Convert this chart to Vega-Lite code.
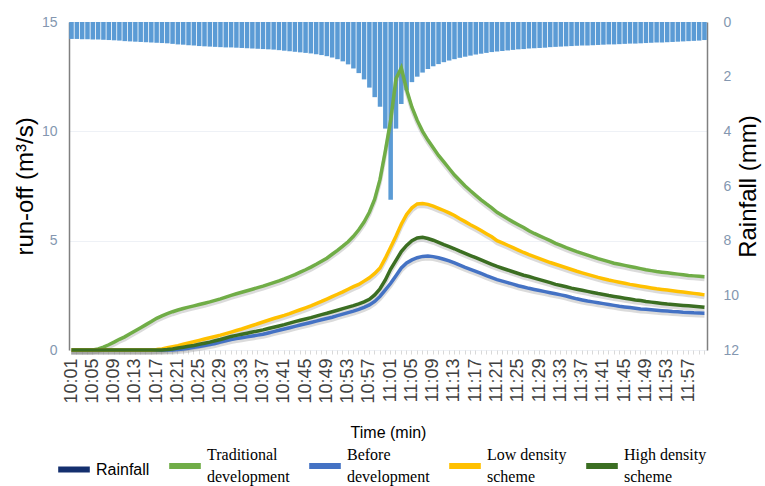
{
"$schema": "https://vega.github.io/schema/vega-lite/v6.json",
"width": 638, "height": 328,
"autosize": {"type": "none"},
"padding": {"left": 69, "top": 22, "right": 58, "bottom": 136},
"config": {"font": "Liberation Sans", "view": {"stroke": null}, "axis": {"labelFont": "Liberation Sans", "titleFont": "Liberation Sans"}},
"data": {"values": [
{"t":"10:01","rain":0.62,"trad":0,"before":0,"low":0,"high":0},
{"t":"10:02","rain":0.62,"trad":0,"before":0,"low":0,"high":0},
{"t":"10:03","rain":0.63,"trad":0,"before":0,"low":0,"high":0},
{"t":"10:04","rain":0.63,"trad":0,"before":0,"low":0,"high":0},
{"t":"10:05","rain":0.64,"trad":0,"before":0,"low":0,"high":0},
{"t":"10:06","rain":0.64,"trad":0.05,"before":0,"low":0,"high":0},
{"t":"10:07","rain":0.65,"trad":0.13,"before":0,"low":0,"high":0},
{"t":"10:08","rain":0.66,"trad":0.24,"before":0,"low":0,"high":0},
{"t":"10:09","rain":0.67,"trad":0.36,"before":0,"low":0,"high":0},
{"t":"10:10","rain":0.68,"trad":0.49,"before":0,"low":0,"high":0},
{"t":"10:11","rain":0.70,"trad":0.60,"before":0,"low":0,"high":0},
{"t":"10:12","rain":0.71,"trad":0.74,"before":0,"low":0,"high":0},
{"t":"10:13","rain":0.72,"trad":0.88,"before":0,"low":0,"high":0},
{"t":"10:14","rain":0.73,"trad":1.02,"before":0,"low":0,"high":0},
{"t":"10:15","rain":0.74,"trad":1.16,"before":0,"low":0,"high":0},
{"t":"10:16","rain":0.75,"trad":1.30,"before":0,"low":0,"high":0},
{"t":"10:17","rain":0.76,"trad":1.45,"before":0,"low":0.02,"high":0},
{"t":"10:18","rain":0.77,"trad":1.56,"before":0,"low":0.05,"high":0},
{"t":"10:19","rain":0.78,"trad":1.66,"before":0,"low":0.10,"high":0.02},
{"t":"10:20","rain":0.80,"trad":1.75,"before":0,"low":0.15,"high":0.05},
{"t":"10:21","rain":0.82,"trad":1.83,"before":0.02,"low":0.20,"high":0.09},
{"t":"10:22","rain":0.83,"trad":1.90,"before":0.05,"low":0.26,"high":0.13},
{"t":"10:23","rain":0.85,"trad":1.96,"before":0.08,"low":0.32,"high":0.17},
{"t":"10:24","rain":0.86,"trad":2.02,"before":0.12,"low":0.38,"high":0.21},
{"t":"10:25","rain":0.88,"trad":2.08,"before":0.16,"low":0.44,"high":0.26},
{"t":"10:26","rain":0.89,"trad":2.14,"before":0.20,"low":0.50,"high":0.31},
{"t":"10:27","rain":0.90,"trad":2.20,"before":0.25,"low":0.56,"high":0.36},
{"t":"10:28","rain":0.91,"trad":2.27,"before":0.30,"low":0.62,"high":0.42},
{"t":"10:29","rain":0.92,"trad":2.34,"before":0.36,"low":0.68,"high":0.48},
{"t":"10:30","rain":0.93,"trad":2.42,"before":0.42,"low":0.75,"high":0.55},
{"t":"10:31","rain":0.93,"trad":2.50,"before":0.48,"low":0.82,"high":0.62},
{"t":"10:32","rain":0.94,"trad":2.57,"before":0.52,"low":0.89,"high":0.67},
{"t":"10:33","rain":0.95,"trad":2.64,"before":0.56,"low":0.96,"high":0.72},
{"t":"10:34","rain":0.96,"trad":2.71,"before":0.60,"low":1.04,"high":0.77},
{"t":"10:35","rain":0.97,"trad":2.78,"before":0.64,"low":1.12,"high":0.82},
{"t":"10:36","rain":0.98,"trad":2.85,"before":0.68,"low":1.20,"high":0.87},
{"t":"10:37","rain":0.99,"trad":2.92,"before":0.72,"low":1.28,"high":0.92},
{"t":"10:38","rain":1.00,"trad":3.00,"before":0.78,"low":1.36,"high":0.98},
{"t":"10:39","rain":1.01,"trad":3.08,"before":0.84,"low":1.44,"high":1.04},
{"t":"10:40","rain":1.03,"trad":3.16,"before":0.90,"low":1.51,"high":1.10},
{"t":"10:41","rain":1.05,"trad":3.25,"before":0.96,"low":1.58,"high":1.16},
{"t":"10:42","rain":1.07,"trad":3.35,"before":1.02,"low":1.66,"high":1.23},
{"t":"10:43","rain":1.09,"trad":3.45,"before":1.08,"low":1.75,"high":1.30},
{"t":"10:44","rain":1.11,"trad":3.56,"before":1.14,"low":1.84,"high":1.36},
{"t":"10:45","rain":1.13,"trad":3.67,"before":1.20,"low":1.93,"high":1.42},
{"t":"10:46","rain":1.15,"trad":3.79,"before":1.26,"low":2.02,"high":1.48},
{"t":"10:47","rain":1.18,"trad":3.92,"before":1.32,"low":2.12,"high":1.55},
{"t":"10:48","rain":1.21,"trad":4.06,"before":1.38,"low":2.22,"high":1.62},
{"t":"10:49","rain":1.25,"trad":4.20,"before":1.44,"low":2.33,"high":1.68},
{"t":"10:50","rain":1.30,"trad":4.38,"before":1.50,"low":2.44,"high":1.75},
{"t":"10:51","rain":1.36,"trad":4.56,"before":1.57,"low":2.55,"high":1.82},
{"t":"10:52","rain":1.44,"trad":4.75,"before":1.64,"low":2.66,"high":1.89},
{"t":"10:53","rain":1.55,"trad":4.95,"before":1.71,"low":2.78,"high":1.96},
{"t":"10:54","rain":1.70,"trad":5.20,"before":1.78,"low":2.90,"high":2.03},
{"t":"10:55","rain":1.87,"trad":5.50,"before":1.86,"low":3.00,"high":2.11},
{"t":"10:56","rain":2.10,"trad":5.85,"before":1.95,"low":3.15,"high":2.20},
{"t":"10:57","rain":2.40,"trad":6.30,"before":2.06,"low":3.30,"high":2.32},
{"t":"10:58","rain":2.75,"trad":6.90,"before":2.22,"low":3.50,"high":2.52},
{"t":"10:59","rain":3.10,"trad":7.80,"before":2.45,"low":3.75,"high":2.80},
{"t":"11:00","rain":3.90,"trad":9.10,"before":2.75,"low":4.20,"high":3.20},
{"t":"11:01","rain":6.50,"trad":10.5,"before":3.05,"low":4.70,"high":3.70},
{"t":"11:02","rain":3.90,"trad":12.4,"before":3.40,"low":5.20,"high":4.10},
{"t":"11:03","rain":3.00,"trad":12.9,"before":3.75,"low":5.75,"high":4.50},
{"t":"11:04","rain":2.50,"trad":11.9,"before":3.98,"low":6.20,"high":4.78},
{"t":"11:05","rain":2.20,"trad":11.1,"before":4.12,"low":6.50,"high":5.00},
{"t":"11:06","rain":2.00,"trad":10.5,"before":4.22,"low":6.68,"high":5.12},
{"t":"11:07","rain":1.85,"trad":10.0,"before":4.28,"low":6.70,"high":5.15},
{"t":"11:08","rain":1.72,"trad":9.6,"before":4.30,"low":6.66,"high":5.10},
{"t":"11:09","rain":1.62,"trad":9.25,"before":4.27,"low":6.58,"high":5.02},
{"t":"11:10","rain":1.54,"trad":8.9,"before":4.22,"low":6.48,"high":4.92},
{"t":"11:11","rain":1.47,"trad":8.6,"before":4.15,"low":6.38,"high":4.82},
{"t":"11:12","rain":1.41,"trad":8.3,"before":4.08,"low":6.27,"high":4.73},
{"t":"11:13","rain":1.36,"trad":8.0,"before":3.98,"low":6.15,"high":4.63},
{"t":"11:14","rain":1.31,"trad":7.75,"before":3.88,"low":6.00,"high":4.52},
{"t":"11:15","rain":1.27,"trad":7.5,"before":3.78,"low":5.87,"high":4.42},
{"t":"11:16","rain":1.23,"trad":7.28,"before":3.69,"low":5.73,"high":4.32},
{"t":"11:17","rain":1.19,"trad":7.07,"before":3.60,"low":5.60,"high":4.22},
{"t":"11:18","rain":1.16,"trad":6.87,"before":3.50,"low":5.46,"high":4.12},
{"t":"11:19","rain":1.13,"trad":6.68,"before":3.40,"low":5.32,"high":4.02},
{"t":"11:20","rain":1.10,"trad":6.5,"before":3.31,"low":5.18,"high":3.92},
{"t":"11:21","rain":1.08,"trad":6.3,"before":3.22,"low":5.00,"high":3.82},
{"t":"11:22","rain":1.06,"trad":6.15,"before":3.15,"low":4.90,"high":3.74},
{"t":"11:23","rain":1.04,"trad":6.0,"before":3.08,"low":4.79,"high":3.66},
{"t":"11:24","rain":1.02,"trad":5.86,"before":3.01,"low":4.68,"high":3.58},
{"t":"11:25","rain":1.00,"trad":5.73,"before":2.94,"low":4.57,"high":3.50},
{"t":"11:26","rain":0.99,"trad":5.6,"before":2.88,"low":4.46,"high":3.42},
{"t":"11:27","rain":0.97,"trad":5.45,"before":2.82,"low":4.36,"high":3.36},
{"t":"11:28","rain":0.96,"trad":5.33,"before":2.77,"low":4.27,"high":3.29},
{"t":"11:29","rain":0.95,"trad":5.22,"before":2.72,"low":4.18,"high":3.22},
{"t":"11:30","rain":0.94,"trad":5.11,"before":2.67,"low":4.09,"high":3.15},
{"t":"11:31","rain":0.92,"trad":5.0,"before":2.62,"low":4.00,"high":3.08},
{"t":"11:32","rain":0.91,"trad":4.88,"before":2.57,"low":3.92,"high":3.00},
{"t":"11:33","rain":0.90,"trad":4.78,"before":2.52,"low":3.84,"high":2.95},
{"t":"11:34","rain":0.89,"trad":4.68,"before":2.47,"low":3.76,"high":2.89},
{"t":"11:35","rain":0.88,"trad":4.59,"before":2.40,"low":3.68,"high":2.83},
{"t":"11:36","rain":0.87,"trad":4.5,"before":2.34,"low":3.60,"high":2.78},
{"t":"11:37","rain":0.86,"trad":4.42,"before":2.29,"low":3.53,"high":2.73},
{"t":"11:38","rain":0.86,"trad":4.34,"before":2.24,"low":3.46,"high":2.68},
{"t":"11:39","rain":0.85,"trad":4.26,"before":2.20,"low":3.39,"high":2.63},
{"t":"11:40","rain":0.84,"trad":4.18,"before":2.16,"low":3.32,"high":2.58},
{"t":"11:41","rain":0.83,"trad":4.11,"before":2.12,"low":3.26,"high":2.54},
{"t":"11:42","rain":0.82,"trad":4.04,"before":2.08,"low":3.20,"high":2.49},
{"t":"11:43","rain":0.82,"trad":3.97,"before":2.04,"low":3.15,"high":2.45},
{"t":"11:44","rain":0.81,"trad":3.92,"before":2.00,"low":3.10,"high":2.41},
{"t":"11:45","rain":0.80,"trad":3.87,"before":1.97,"low":3.05,"high":2.37},
{"t":"11:46","rain":0.79,"trad":3.82,"before":1.94,"low":3.00,"high":2.33},
{"t":"11:47","rain":0.79,"trad":3.77,"before":1.91,"low":2.96,"high":2.29},
{"t":"11:48","rain":0.78,"trad":3.72,"before":1.88,"low":2.92,"high":2.26},
{"t":"11:49","rain":0.77,"trad":3.67,"before":1.86,"low":2.88,"high":2.22},
{"t":"11:50","rain":0.76,"trad":3.63,"before":1.84,"low":2.84,"high":2.19},
{"t":"11:51","rain":0.75,"trad":3.59,"before":1.82,"low":2.80,"high":2.16},
{"t":"11:52","rain":0.75,"trad":3.56,"before":1.80,"low":2.77,"high":2.13},
{"t":"11:53","rain":0.74,"trad":3.53,"before":1.78,"low":2.74,"high":2.10},
{"t":"11:54","rain":0.73,"trad":3.5,"before":1.76,"low":2.71,"high":2.08},
{"t":"11:55","rain":0.72,"trad":3.47,"before":1.75,"low":2.68,"high":2.06},
{"t":"11:56","rain":0.71,"trad":3.44,"before":1.73,"low":2.65,"high":2.04},
{"t":"11:57","rain":0.70,"trad":3.41,"before":1.72,"low":2.62,"high":2.02},
{"t":"11:58","rain":0.69,"trad":3.39,"before":1.70,"low":2.59,"high":2.00},
{"t":"11:59","rain":0.68,"trad":3.37,"before":1.69,"low":2.56,"high":1.98},
{"t":"12:00","rain":0.66,"trad":3.35,"before":1.68,"low":2.52,"high":1.95}
]},
"encoding": {
  "x": {"field": "t", "type": "ordinal", "sort": null,
    "scale": {"paddingInner": 0.15, "paddingOuter": 0.05},
    "axis": {"title": "Time (min)", "titleFontSize": 16, "titleFontWeight": "normal", "titleColor": "#000000", "titlePadding": 21,
      "labelAngle": -90, "labelFontSize": 18, "labelColor": "#404040", "labelPadding": 4, "labelOverlap": false,
      "labelExpr": "(toNumber(slice(datum.value,0,2))*60 + toNumber(slice(datum.value,3,5)) - 601) % 4 == 0 ? datum.value : ''",
      "ticks": true, "tickColor": "#D9D9D9", "tickSize": 4, "domain": false, "grid": false}}
},
"layer": [
  {"mark": {"type": "bar", "color": "#5B9BD5"},
   "encoding": {"y": {"field": "rain", "type": "quantitative", "scale": {"domain": [0, 12], "reverse": true, "nice": false},
     "axis": {"orient": "right", "values": [0, 2, 4, 6, 8, 10, 12], "title": "Rainfall (mm)", "titleAngle": 270, "titleFontSize": 24, "titleFontWeight": "normal", "titleColor": "#000000", "titlePadding": 22,
       "labelColor": "#8497B0", "labelFontSize": 14, "ticks": false, "labelPadding": 16, "domainColor": "#808080", "domainWidth": 1.5, "grid": false}}}},
  {"transform": [{"fold": ["trad", "before", "low", "high"], "as": ["k", "v"]}],
   "mark": {"type": "line", "strokeWidth": 4, "color": "#888888", "opacity": 0.3, "yOffset": 2.5},
   "encoding": {"y": {"field": "v", "type": "quantitative", "scale": {"domain": [0, 15], "nice": false}, "axis": null},
     "detail": {"field": "k"}}},
  {"transform": [{"fold": ["trad", "before", "low", "high"], "as": ["k", "v"]}],
   "mark": {"type": "line", "strokeWidth": 3.5},
   "encoding": {"y": {"field": "v", "type": "quantitative", "scale": {"domain": [0, 15], "nice": false},
     "axis": {"orient": "left", "values": [0, 5, 10, 15], "title": "run-off (m³/s)", "titleFontSize": 24, "titleFontWeight": "normal", "titleColor": "#000000", "titlePadding": 4,
       "labelColor": "#8497B0", "labelFontSize": 14, "ticks": false, "labelPadding": 12, "domainColor": "#808080", "domainWidth": 1.5, "grid": true, "gridColor": "#EEF1F6"}},
     "color": {"field": "k", "type": "nominal",
       "scale": {"domain": ["rain", "trad", "before", "low", "high"], "range": ["#142F6E", "#70AD47", "#4472C4", "#FFC000", "#3B6E22"]},
       "legend": {"orient": "none", "legendX": -14, "legendY": 425, "direction": "horizontal", "columns": 5, "title": null,
         "symbolType": "stroke", "symbolSize": 1000, "symbolStrokeWidth": 6, "labelFont": "Liberation Serif", "labelFontSize": 16,
         "labelColor": "#000000", "labelOffset": 3, "columnPadding": 7, "padding": 0, "labelLimit": 300,
         "labelExpr": "datum.value == 'rain' ? 'Rainfall' : datum.value == 'trad' ? ['Traditional','development'] : datum.value == 'before' ? ['Before','development'] : datum.value == 'low' ? ['Low density','scheme'] : ['High density','scheme']",
         "encode": {"labels": {"update": {"font": {"signal": "datum.value == 'rain' ? 'Liberation Sans' : 'Liberation Serif'"}, "lineHeight": {"value": 22}, "dy": {"signal": "datum.value == 'rain' ? 0 : -11"}}}}}}}}
],
"resolve": {"scale": {"y": "independent", "color": "independent"}}
}
